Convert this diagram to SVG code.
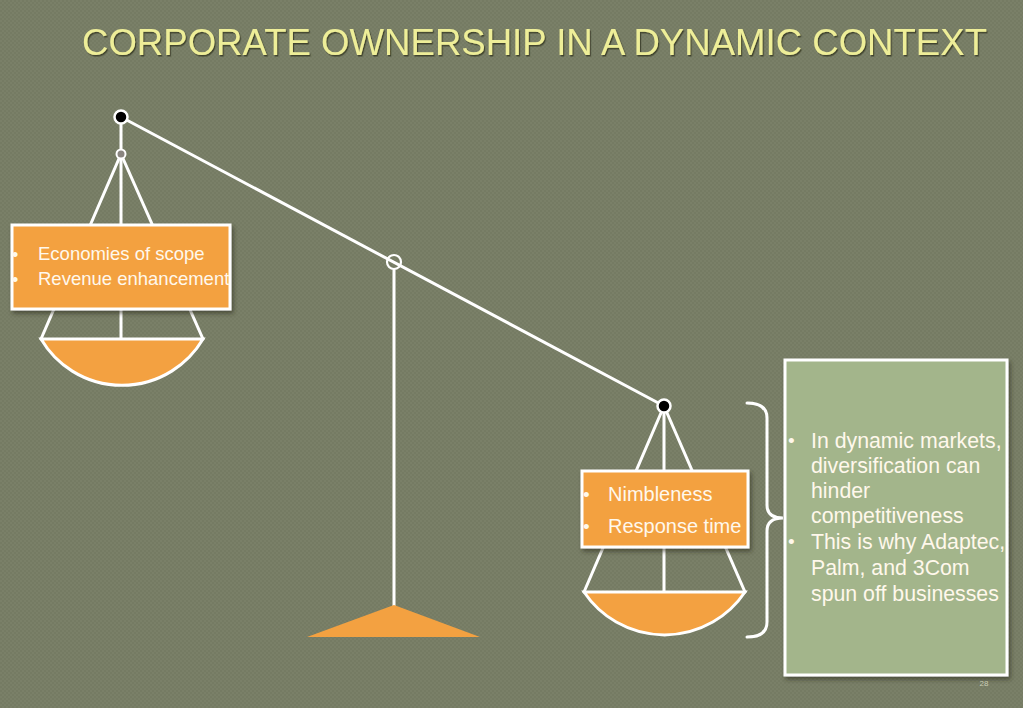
<svg xmlns="http://www.w3.org/2000/svg" width="1023" height="708" viewBox="0 0 1023 708">
<defs>
<pattern id="tex" width="4" height="4" patternUnits="userSpaceOnUse">
<rect width="4" height="4" fill="#757b63"/>
<rect width="2" height="2" fill="#7a8068"/>
<rect x="2" y="2" width="2" height="2" fill="#7a8068"/>
</pattern>
<filter id="sh" x="-10%" y="-10%" width="130%" height="130%">
<feDropShadow dx="2" dy="3" stdDeviation="2" flood-color="#2a2d20" flood-opacity="0.6"/>
</filter>
<filter id="tsh" x="-5%" y="-20%" width="110%" height="150%">
<feDropShadow dx="1.2" dy="1.5" stdDeviation="0.6" flood-color="#3a3d28" flood-opacity="0.9"/>
</filter>
</defs>
<style>
.ln{stroke:#ffffff;stroke-width:3;fill:none;stroke-linecap:round}
.pan{fill:#f3a141;stroke:#ffffff;stroke-width:3}
.box{fill:#f3a141;stroke:#ffffff;stroke-width:3;filter:url(#sh)}
.txt{font-family:"Liberation Sans",Arial,sans-serif;fill:#fff8ec}
.bul{font-family:"Liberation Sans",Arial,sans-serif;fill:#fff8ec}
.dot{fill:#000000;stroke:#ffffff;stroke-width:2.5}
</style>
<rect width="1023" height="708" fill="url(#tex)"/>
<text id="title" x="82" y="55" font-family="'Liberation Sans',Arial,sans-serif" font-size="36" fill="#eeee98" textLength="905" lengthAdjust="spacingAndGlyphs" filter="url(#tsh)">CORPORATE OWNERSHIP IN A DYNAMIC CONTEXT</text>

<g id="connectors">
<line class="ln" x1="121" y1="117" x2="664" y2="406"/>
<line class="ln" x1="394" y1="270" x2="394" y2="607" stroke-width="2.5"/>
<line class="ln" x1="121" y1="117" x2="121" y2="154"/>
<line class="ln" x1="121" y1="154" x2="41" y2="339"/>
<line class="ln" x1="121" y1="154" x2="203" y2="339"/>
<line class="ln" x1="121" y1="154" x2="121" y2="339"/>
<line class="ln" x1="664" y1="406" x2="584" y2="592"/>
<line class="ln" x1="664" y1="406" x2="745" y2="592"/>
<line class="ln" x1="664" y1="406" x2="664" y2="592"/>
<path class="ln" d="M747,403 Q767,403 767,418 L767,505 Q767,518 783,518 Q767,518 767,531 L767,622 Q767,637 747,637"/>
</g>

<g id="pivot">
<circle cx="394" cy="262" r="7" fill="none" stroke="#ffffff" stroke-width="2.2"/>
<polygon points="394,605 307,637 480,637" fill="#f3a141"/>
</g>

<g id="left-pan">
<circle class="dot" cx="121" cy="117" r="6.5"/>
<circle cx="121" cy="154" r="4.5" fill="#8a8580" stroke="#ffffff" stroke-width="2"/>
<path class="pan" d="M41,339 L203,339 A94 94 0 0 1 41,339 Z"/>
</g>

<g id="left-box">
<rect class="box" x="12" y="225" width="218" height="84"/>
<text class="bul" x="12" y="261" font-size="18">•</text>
<text class="bul" x="12" y="286" font-size="18">•</text>
<text class="txt" x="38" y="260" font-size="18.5">Economies of scope</text>
<text class="txt" x="38" y="285" font-size="18.5">Revenue enhancement</text>
</g>

<g id="right-pan">
<circle class="dot" cx="664" cy="406" r="6.5"/>
<path class="pan" d="M584,592 L745,592 A97 97 0 0 1 584,592 Z"/>
</g>

<g id="right-box">
<rect class="box" x="582" y="471" width="166" height="76"/>
<text class="bul" x="583" y="501" font-size="19">•</text>
<text class="bul" x="583" y="533" font-size="19">•</text>
<text class="txt" x="608" y="501" font-size="20">Nimbleness</text>
<text class="txt" x="608" y="533" font-size="20">Response time</text>
</g>

<g id="note-box">
<rect x="785" y="360" width="222" height="315" fill="#a3b58b" stroke="#ffffff" stroke-width="3" filter="url(#sh)"/>
<g class="txt" font-size="21.3" fill="#f4f6ee">
<text class="bul" x="788" y="447" font-size="19">•</text>
<text x="811" y="448">In dynamic markets,</text>
<text x="811" y="473">diversification can</text>
<text x="811" y="498">hinder</text>
<text x="811" y="523">competitiveness</text>
<text class="bul" x="788" y="548" font-size="19">•</text>
<text x="811" y="549">This is why Adaptec,</text>
<text x="811" y="575">Palm, and 3Com</text>
<text x="811" y="601">spun off businesses</text>
</g>
</g>

<text id="page" x="984" y="686" font-family="'Liberation Sans',Arial,sans-serif" font-size="8" fill="#c9ccb4" text-anchor="middle">28</text>
</svg>
